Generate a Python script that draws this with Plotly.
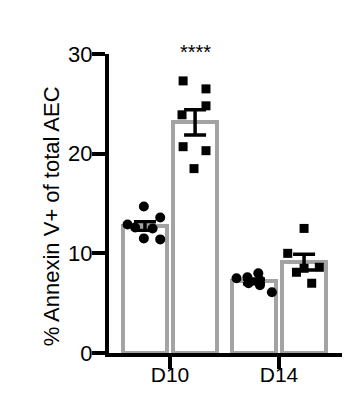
import numpy as np
import plotly.graph_objects as go

categories = ["D10", "D14"]
# individual values per group (A = circles, B = squares)
d10_a = [14.7, 13.6, 12.9, 12.6, 12.5, 11.5, 11.4]
d10_b = [27.3, 26.5, 24.8, 23.9, 20.7, 20.3, 18.5]
d14_a = [7.5, 7.6, 7.0, 8.0, 7.3, 6.8, 6.1]
d14_b = [12.5, 10.0, 8.1, 8.6, 7.0, 8.5]
# horizontal scatter (jitter) of the points within each bar
jit_d10_a = [-0.01, 0.14, -0.16, -0.09, 0.07, -0.01, 0.14]
jit_d10_b = [-0.11, 0.10, 0.10, -0.12, -0.11, 0.10, -0.01]
jit_d14_a = [-0.16, -0.06, -0.05, 0.04, 0.055, 0.055, 0.165]
jit_d14_b = [0.0, -0.15, -0.07, 0.14, 0.07, 0.0]
y_ticks = [0, 10, 20, 30]
y_title = "% Annexin V+ of total AEC"
sig_label = "****"

cat_pos = [1, 2]
off = 0.23
bw = 0.40
grey = "#a3a3a3"
FONT = "Liberation Sans, Arial, sans-serif"

def mean_sem(v):
    v = np.asarray(v, dtype=float)
    return v.mean(), v.std(ddof=1) / np.sqrt(len(v))

fig = go.Figure()

for groups, sign in (([d10_a, d14_a], -1), ([d10_b, d14_b], 1)):
    ms = [mean_sem(g) for g in groups]
    fig.add_trace(go.Bar(
        x=[p + sign * off for p in cat_pos],
        y=[m for m, s in ms],
        width=bw,
        marker=dict(color="white", line=dict(color=grey, width=4)),
        error_y=dict(type="data", array=[s for m, s in ms], color="black",
                     thickness=3.5, width=11),
        showlegend=False,
    ))

pts = [
    (d10_a, jit_d10_a, cat_pos[0] - off, "circle", 10),
    (d14_a, jit_d14_a, cat_pos[1] - off, "circle", 10),
    (d10_b, jit_d10_b, cat_pos[0] + off, "square", 9),
    (d14_b, jit_d14_b, cat_pos[1] + off, "square", 9),
]
for vals, jit, c, sym, sz in pts:
    fig.add_trace(go.Scatter(
        x=[c + j for j in jit], y=vals, mode="markers",
        marker=dict(symbol=sym, size=sz, color="black"),
        showlegend=False, cliponaxis=False,
    ))

fig.add_annotation(x=cat_pos[0] + off, y=30, yref="y", xref="x",
                   text=sig_label, showarrow=False, yshift=2,
                   font=dict(size=20, color="black", family=FONT))
fig.add_annotation(x=0, xref="paper", xshift=-58, xanchor="center",
                   y=0.457, yref="paper", yanchor="middle",
                   text=y_title, textangle=-90, showarrow=False,
                   font=dict(size=22, color="black", family=FONT))

fig.update_layout(
    width=359, height=403,
    margin=dict(l=109, r=17, t=54, b=50, autoexpand=False),
    plot_bgcolor="white", paper_bgcolor="white",
    font=dict(family=FONT, color="black"),
    bargap=0,
)
fig.update_xaxes(
    range=[0.44, 2.578], tickvals=cat_pos, ticktext=categories,
    showline=True, linecolor="black", linewidth=4,
    ticks="outside", ticklen=12, tickwidth=4, tickcolor="black",
    tickfont=dict(size=21), showgrid=False, zeroline=False,
    automargin=False, ticklabelstandoff=-12,
)
fig.update_yaxes(
    range=[0, 30], tickvals=y_ticks,
    showline=True, linecolor="black", linewidth=4,
    ticks="outside", ticklen=13, tickwidth=4, tickcolor="black",
    tickfont=dict(size=22), showgrid=False, zeroline=False,
    automargin=False, ticklabelstandoff=-5,
)

fig.write_html("out.html")
